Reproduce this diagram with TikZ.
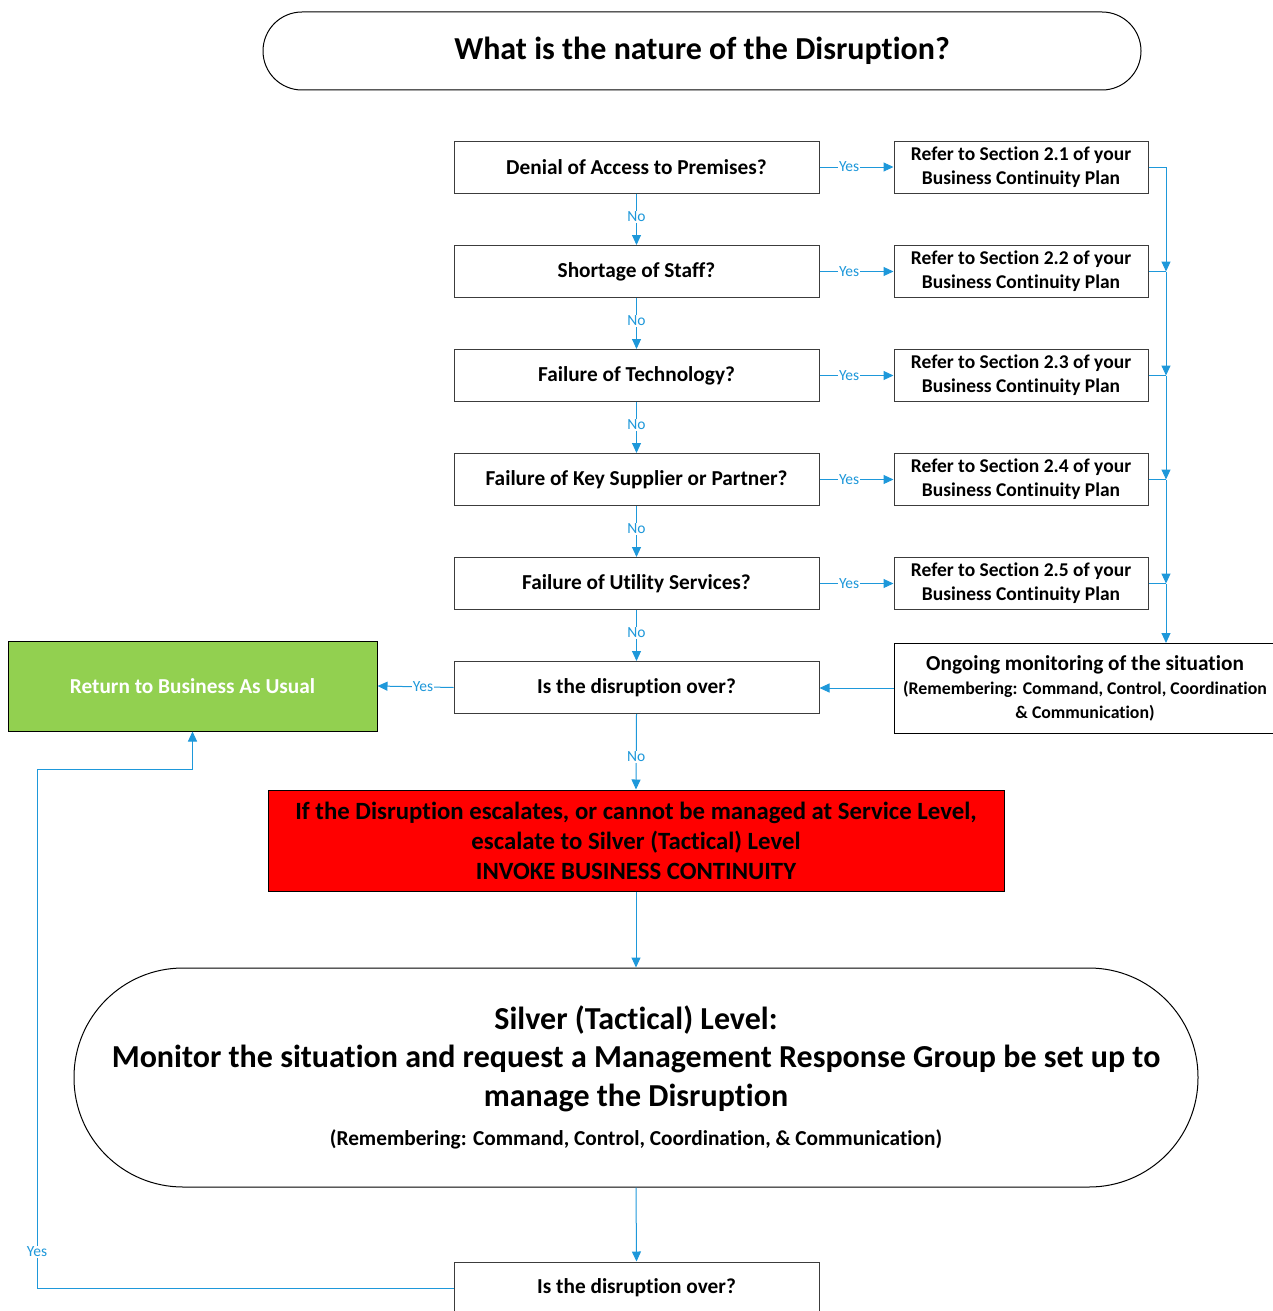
\documentclass[tikz,border=0pt]{standalone}
\usepackage{fontspec}
\setmainfont{Carlito}[RawFeature={-liga;-dlig;-clig;-calt;-rlig}]
\usetikzlibrary{arrows.meta}
\definecolor{lblue}{RGB}{30,152,218}
\definecolor{bgreen}{RGB}{146,208,80}
\definecolor{boxline}{RGB}{60,60,60}
\tikzset{
  qbox/.style={draw=boxline, line width=1pt, fill=white, minimum width=365pt, minimum height=52pt, inner sep=0pt, font=\fontsize{21.3}{24}\selectfont\bfseries, align=center},
  refbox/.style={draw=boxline, line width=1pt, fill=white, minimum width=254pt, minimum height=52pt, inner sep=0pt, font=\fontsize{19.5}{24}\selectfont\bfseries, align=center},
  conn/.style={draw=lblue, line width=1pt, -{Triangle[length=10pt,width=9pt]}},
  plain/.style={draw=lblue, line width=1pt},
  lab/.style={font=\fontsize{15.5}{15.5}\selectfont, text=lblue, fill=white, inner sep=1pt},
}
\begin{document}
\begin{tikzpicture}[x=1pt,y=-1pt]
\useasboundingbox (0,0) rectangle (1273,1311);
\clip (0,0) rectangle (1273,1311);

% title
\node[draw=black, line width=1pt, rounded corners=39pt, minimum width=878pt, minimum height=78pt, inner sep=0pt, font=\fontsize{32}{36}\selectfont\bfseries] (title) at (702,51) {What is the nature of the Disruption?};

% questions
\node[qbox] (q1) at (636.5,167) {Denial of Access to Premises?};
\node[qbox] (q2) at (636.5,271.5) {Shortage of Staff?};
\node[qbox] (q3) at (636.5,375.5) {Failure of Technology?};
\node[qbox] (q4) at (636.5,479.5) {Failure of Key Supplier or Partner?};
\node[qbox] (q5) at (636.5,583.5) {Failure of Utility Services?};
\node[qbox] (q6) at (636.5,687.5) {Is the disruption over?};

% refer boxes
\node[refbox] (r1) at (1021,167) {Refer to Section 2.1 of your\\Business Continuity Plan};
\node[refbox] (r2) at (1021,271.5) {Refer to Section 2.2 of your\\Business Continuity Plan};
\node[refbox] (r3) at (1021,375.5) {Refer to Section 2.3 of your\\Business Continuity Plan};
\node[refbox] (r4) at (1021,479.5) {Refer to Section 2.4 of your\\Business Continuity Plan};
\node[refbox] (r5) at (1021,583.5) {Refer to Section 2.5 of your\\Business Continuity Plan};

% ongoing monitoring
\node[draw=black, line width=1pt, fill=white, minimum width=382pt, minimum height=90pt, inner sep=0pt, align=center, font=\fontsize{17.8}{24}\selectfont\bfseries] (ongo) at (1085,688)
  {{\fontsize{21.3}{24}\selectfont Ongoing monitoring of the situation}\\
   (Remembering: Command, Control, Coordination\\
   \& Communication)};

% green box
\node[draw=black, line width=1pt, fill=bgreen, minimum width=369pt, minimum height=90pt, inner sep=0pt, text=white, font=\fontsize{21.3}{24}\selectfont\bfseries] (bau) at (192.5,686) {Return to Business As Usual};

% red box
\node[draw=black, line width=1pt, fill=red, minimum width=736pt, minimum height=101pt, inner sep=0pt, align=center, font=\fontsize{24.8}{30}\selectfont\bfseries] (esc) at (636,840.5)
  {If the Disruption escalates, or cannot be managed at Service Level,\\escalate to Silver (Tactical) Level\\INVOKE BUSINESS CONTINUITY};

% silver terminator
\node[draw=black, line width=1pt, rounded corners=109pt, minimum width=1124pt, minimum height=219pt, inner sep=0pt, align=center, font=\fontsize{32}{38.5}\selectfont\bfseries] (silver) at (636,1077.5)
  {Silver (Tactical) Level:\\Monitor the situation and request a Management Response Group be set up to\\manage the Disruption\\[1pt]
   \fontsize{21.3}{24}\selectfont (Remembering: Command, Control, Coordination, \& Communication)};

% bottom question
\node[qbox] (q7) at (636.5,1288) {Is the disruption over?};

% No connectors
\foreach \a/\b in {q1/q2,q2/q3,q3/q4,q4/q5,q5/q6}{
  \draw[conn] (\a.south) -- node[lab, pos=0.45]{No} (\b.north);
}
\draw[conn] (q6.south) -- node[lab, pos=0.57]{No} (esc.north);
\draw[conn] (esc.south) -- (silver.north);
\draw[conn] (silver.south) -- (q7.north);

% Yes connectors
\foreach \i in {1,...,5}{
  \draw[conn] (q\i.east) -- node[lab, pos=0.4]{Yes} (r\i.west);
}
\draw[conn] (q6.west) -- node[lab, pos=0.4]{Yes} (bau.east);

% right collector
\coordinate (j1) at (1166,167);
\coordinate (j2) at (1166,271.5);
\coordinate (j3) at (1166,375.5);
\coordinate (j4) at (1166,479.5);
\coordinate (j5) at (1166,583.5);
\coordinate (j6) at (1166,643);
\draw[plain] (r1.east) -- (j1);
\draw[conn] (j1) -- (j2);
\draw[plain] (r2.east) -- (j2);
\draw[conn] (j2) -- (j3);
\draw[plain] (r3.east) -- (j3);
\draw[conn] (j3) -- (j4);
\draw[plain] (r4.east) -- (j4);
\draw[conn] (j4) -- (j5);
\draw[plain] (r5.east) -- (j5);
\draw[conn] (j5) -- (j6);
\draw[conn] (ongo.west) -- (ongo.west -| q6.east);

% bottom yes loop
\coordinate (c1) at (37,1288);
\coordinate (c2) at (37,769);
\coordinate (c3) at (192.5,769);
\draw[conn] (q7.west) -- (c1) -- node[lab, pos=0.07]{Yes} (c2) -- (c3) -- (bau.south);
\end{tikzpicture}
\end{document}
